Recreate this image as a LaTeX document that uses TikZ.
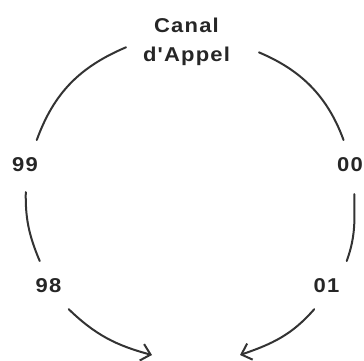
\documentclass[tikz,border=0pt]{standalone}
\usepackage{fontspec}
\newfontfamily\dialfont[LetterSpace=6,FakeStretch=1.1]{Liberation Sans Bold}
\usetikzlibrary{arrows.meta}
\tikzset{
  chan/.style={
    % The text:
    font=\dialfont\fontsize{20}{29.5}\selectfont,
    align=center,text=black!85,
    % The spacing:
    inner sep=0pt,outer sep=17pt
  }}
\tikzset{
	num/.style={
		% The text:
		font=\dialfont\fontsize{20}{24}\selectfont,
		text=black!85,anchor=base,
		% The spacing:
		inner sep=0pt,outer sep=17pt}}
\tikzset{
	ring/.style={
		% The line:
		line width=2pt,draw=black!80,line cap=round,
		% The tip:
		-{Straight Barb[length=9pt,width=17pt]}}}

\begin{document}
\begin{tikzpicture}[x=1pt,y=1pt]
	\useasboundingbox (0,0) rectangle (364,360);
	\node[chan] (canal) at (186.5,318) {Canal\\d'Appel};
	\node[num] (n99) at (25,189) {99};
	\node[num] (n00) at (350,189) {00};
	\node[num] (n98) at (48.5,68) {98};
	\node[num] (n01) at (326.5,68) {01};
	\coordinate (endl) at (152,5);
	\coordinate (endr) at (240,5);
	% Left half
	\draw[ring,-] (canal.185) to[out=203,in=70] (n99.64);
	\draw[ring,-,shorten <=4pt] (n99.272) to[out=269,in=113] (n98.110);
	\draw[ring] (n98.310) to[out=316,in=165] (endl);
	% Right half
	\draw[ring,-,shorten <=13pt] (canal.355) to[out=337,in=110] (n00.105);
	\draw[ring,-,shorten <=6pt] (n00.280) to[out=270,in=70] (n01.50);
	\draw[ring] (n01.243) to[out=229,in=19] (endr);
\end{tikzpicture}
\end{document}
